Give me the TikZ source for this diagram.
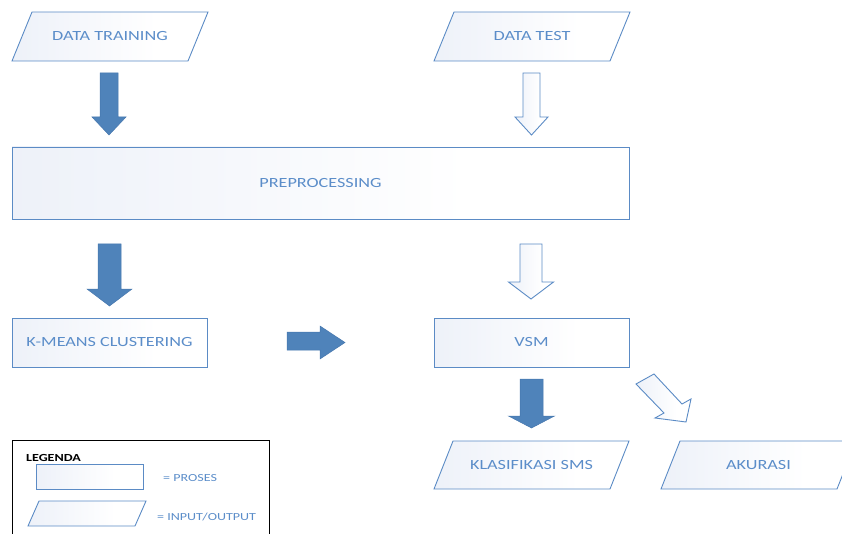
\documentclass[tikz,border=0pt]{standalone}
\usepackage{fontspec}
\setmainfont{Carlito}[FakeStretch=1.3]
\definecolor{edge}{HTML}{5B8BC5}
\definecolor{ink}{HTML}{5B8DC9}
\definecolor{solid}{HTML}{4F83BA}
\definecolor{solidedge}{HTML}{4677AE}
\definecolor{tint}{HTML}{E3E9F5}

% soft fill: tinted on the left, fading to white
\pgfdeclarehorizontalshading{softfill}{100bp}{color(0bp)=(tint); color(30bp)=(tint!55!white); color(62bp)=(white); color(100bp)=(white)}

% parallelogram (input/output) with a named label node at its centre
% #1 name, #2 bottom-left x, #3 top y, #4 width, #5 height, #6 slant, #7 text, #8 font
\newcommand\iobox[8]{%
  \path[boxstyle] ({#2+#6},#3) -- ({#2+#6+#4},#3) -- ({#2+#4},{#3+#5}) -- (#2,{#3+#5}) -- cycle;
  \node[lbl,font=#8] (#1) at ({#2+(#6+#4)/2},{#3+#5/2}) {#7};}

% vertical block arrow: #1 style, #2 centre x, #3 top y, #4 shaft half width,
% #5 head half width, #6 head start y, #7 tip y
\newcommand\downblock[7]{%
  \path[#1] ({#2-#4},#3) -- ({#2+#4},#3) -- ({#2+#4},#6) -- ({#2+#5},#6)
    -- (#2,#7) -- ({#2-#5},#6) -- ({#2-#4},#6) -- cycle;}

\newcommand\bigfont{\fontsize{14}{16}\selectfont}
\newcommand\legfont{\fontsize{10.8}{12}\selectfont}

\begin{document}
\begin{tikzpicture}[x=1pt,y=-1pt,
  boxstyle/.style={draw=edge,line width=0.9pt,shading=softfill,shading angle=0},
  procbox/.style={boxstyle,inner sep=0pt},
  lbl/.style={text=ink,inner sep=0pt},
  solidarrow/.style={fill=solid,draw=solidedge,line width=0.5pt,line join=miter},
  hollowarrow/.style={draw=edge,line width=0.9pt,shading=softfill,shading angle=0,line join=miter}]

\useasboundingbox (0,0) rectangle (842,534);
\clip (0,0) rectangle (842,534);

% inputs
\iobox{train}{12}{12}{176}{49}{20}{DATA TRAINING}{\bigfont}
\iobox{test}{434}{12}{176}{49}{20}{DATA TEST}{\bigfont}

\downblock{solidarrow}{109}{73}{9}{17}{117}{135}
\downblock{hollowarrow}{531.5}{73}{8.5}{16.5}{117}{135}

% processes
\node[procbox,font=\bigfont,text=ink,minimum width=617pt,minimum height=72pt] (pre) at (320.5,183) {PREPROCESSING};

\downblock{solidarrow}{109.5}{244}{11.5}{22.5}{289}{306}
\downblock{hollowarrow}{531}{244}{11}{22.5}{282}{299}

\node[procbox,font=\bigfont,text=ink,minimum width=195pt,minimum height=49pt] (km) at (109.5,342.5) {K-MEANS CLUSTERING};
\node[procbox,font=\bigfont,text=ink,minimum width=195pt,minimum height=49pt] (vsm) at (531.5,342.5) {VSM};

% arrow from clustering towards VSM
\path[solidarrow] (287,332) -- (320,332) -- (320,326) -- (345,342.5) -- (320,359) -- (320,350) -- (287,350) -- cycle;

% outputs
\downblock{solidarrow}{531.5}{379}{11.5}{23}{416}{428}
\path[hollowarrow] (636,384) -- (654,374) -- (682,404) -- (691,399) -- (686,422) -- (655,418) -- (664,413) -- cycle;

\iobox{klas}{434}{441}{176}{48}{19}{KLASIFIKASI SMS}{\bigfont}
\iobox{akurasi}{661}{441}{176}{48}{19}{AKURASI}{\bigfont}

% legend
\draw[black,line width=0.7pt] (12,545) -- (12,440) -- (269,440) -- (269,545);
\node[anchor=west,inner sep=0pt,font=\bfseries\legfont] (leg) at (26,458) {LEGENDA};
\node[procbox,minimum width=107pt,minimum height=25pt] (legproc) at (89.5,476.5) {};
\node[lbl,anchor=west,font=\legfont] (legproctxt) at (163,478) {= PROSES};
\iobox{legio}{28}{501}{107}{25}{11}{}{\legfont}
\node[lbl,anchor=west,font=\legfont] (legiotxt) at (157,517) {= INPUT/OUTPUT};
\end{tikzpicture}
\end{document}
